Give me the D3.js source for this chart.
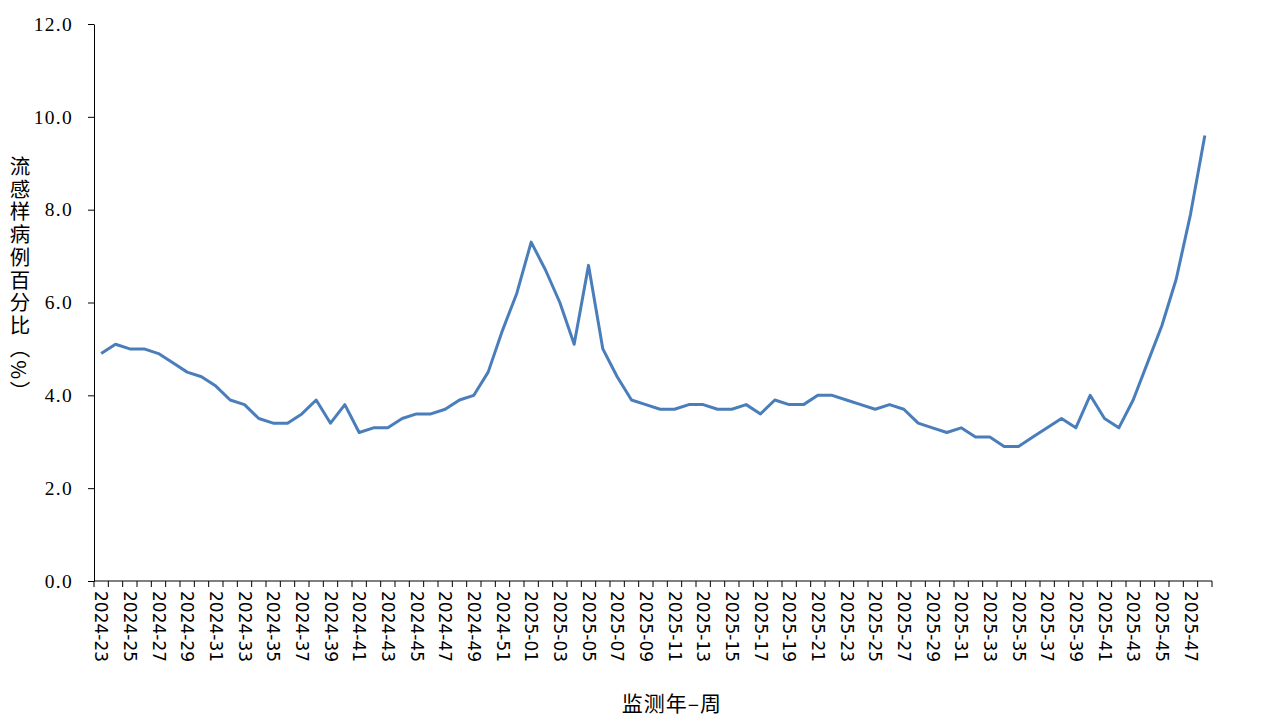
<!DOCTYPE html>
<html><head><meta charset="utf-8">
<script src="https://cdn.jsdelivr.net/npm/d3@7"></script>
<style>body{margin:0;background:#fff}svg{display:block}</style>
</head><body>
<svg id="c" width="1280" height="720"></svg>
<script>
const weeks2024 = d3.range(23, 53).map(w => "2024-" + String(w).padStart(2, "0"));
const weeks2025 = d3.range(1, 49).map(w => "2025-" + String(w).padStart(2, "0"));
const categories = weeks2024.concat(weeks2025);
const values = [
  4.9,5.1,5.0,5.0,4.9,4.7,4.5,4.4,4.2,3.9,
  3.8,3.5,3.4,3.4,3.6,3.9,3.4,3.8,3.2,3.3,
  3.3,3.5,3.6,3.6,3.7,3.9,4.0,4.5,5.4,6.2,
  7.3,6.7,6.0,5.1,6.8,5.0,4.4,3.9,3.8,3.7,
  3.7,3.8,3.8,3.7,3.7,3.8,3.6,3.9,3.8,3.8,
  4.0,4.0,3.9,3.8,3.7,3.8,3.7,3.4,3.3,3.2,
  3.3,3.1,3.1,2.9,2.9,3.1,3.3,3.5,3.3,4.0,
  3.5,3.3,3.9,4.7,5.5,6.5,7.9,9.6
];
const yTicks = [0, 2, 4, 6, 8, 10, 12];
const yTitle = "流感样病例百分比（%）";
const xTitle = "监测年–周";

const svg = d3.select("#c");
const L = 94, R = 1212, T = 24, B = 581;
const x = d3.scaleBand().domain(categories).range([L, R]).padding(0);
const y = d3.scaleLinear().domain([0, 12]).range([B, T]);

// y axis
const yAxis = svg.append("g").attr("transform", `translate(${L},0)`)
  .call(d3.axisLeft(y).tickValues(yTicks).tickFormat(d3.format(".1f")).tickSize(6).tickSizeOuter(0));
yAxis.select(".domain").attr("stroke", "#000");
yAxis.selectAll(".tick line").attr("stroke", "#000");
yAxis.selectAll(".tick text").attr("font-family", "Liberation Serif, serif").attr("font-size", 19.5)
  .attr("letter-spacing", 1.3).attr("fill", "#000").attr("x", -21);

// x axis: line + ticks at category boundaries
const xg = svg.append("g");
xg.append("line").attr("x1", L).attr("x2", R).attr("y1", B).attr("y2", B).attr("stroke", "#000");
const bounds = categories.map(c => x(c)).concat([R]);
xg.selectAll("line.tk").data(bounds).join("line").attr("class", "tk")
  .attr("x1", d => d).attr("x2", d => d).attr("y1", B).attr("y2", B + 6).attr("stroke", "#000");
xg.selectAll("text.lb").data(categories.filter((c, i) => i % 2 === 0)).join("text").attr("class", "lb")
  .attr("transform", d => `translate(${x(d) + x.bandwidth() / 2},${B + 10}) rotate(90)`)
  .attr("dy", "0.35em")
  .attr("font-family", "DejaVu Sans, sans-serif").attr("font-size", 17).attr("fill", "#000")
  .text(d => d);

// line
const line = d3.line().x((d, i) => x(categories[i]) + x.bandwidth() / 2).y(d => y(d));
svg.append("path").datum(values).attr("d", line).attr("fill", "none")
  .attr("stroke", "#4a7ebb").attr("stroke-width", 3).attr("stroke-linejoin", "round");

// titles
svg.append("text").attr("x", 20).attr("y", 156)
  .style("writing-mode", "vertical-rl")
  .attr("letter-spacing", 2.2)
  .attr("font-family", "Noto Sans CJK SC, sans-serif").attr("font-size", 20.5).attr("fill", "#000")
  .text(yTitle);
svg.append("text").attr("x", 672).attr("y", 711).attr("text-anchor", "middle")
  .attr("letter-spacing", 1)
  .attr("font-family", "Noto Sans CJK SC, sans-serif").attr("font-size", 21).attr("fill", "#000")
  .text(xTitle);
</script>
</body></html>
